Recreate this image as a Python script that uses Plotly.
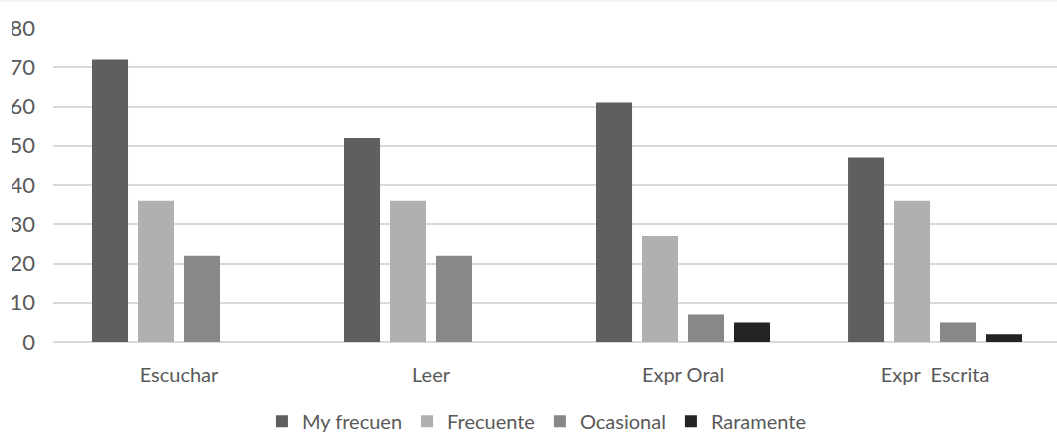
import plotly.graph_objects as go

categories = ["Escuchar", "Leer", "Expr Oral", "Expr  Escrita"]
series_names = ["My frecuen", "Frecuente", "Ocasional", "Raramente"]
my_frecuen = [72, 52, 61, 47]
frecuente = [36, 36, 27, 36]
ocasional = [22, 22, 7, 5]
raramente = [0, 0, 5, 2]
y_ticks = [0, 10, 20, 30, 40, 50, 60, 70, 80]

colors = ["#5f5f5f", "#b0b0b0", "#888888", "#232323"]
values = [my_frecuen, frecuente, ocasional, raramente]

FONT = "Lato"
TXT = "#595959"

fig = go.Figure()
for name, vals, col in zip(series_names, values, colors):
    fig.add_trace(go.Bar(
        x=categories, y=vals, name=name,
        marker=dict(color=col, line=dict(width=0)),
    ))

PLOT_W = 1057 - 53
fig.update_layout(
    width=1057, height=432,
    margin=dict(l=53, r=0, t=28, b=90, autoexpand=False),
    paper_bgcolor="white", plot_bgcolor="white",
    barmode="group", bargap=0.27, bargroupgap=0.217,
    font=dict(family=FONT, size=20, color=TXT),
    showlegend=True,
    legend=dict(orientation="h", x=0.482, xanchor="center", y=-0.252, yanchor="middle",
                font=dict(family=FONT, size=20, color=TXT), itemwidth=30,
                traceorder="normal"),
    xaxis=dict(type="category", range=[-0.5, 3.484], showgrid=False, showline=False,
               zeroline=False, ticks="", tickfont=dict(family=FONT, size=20, color=TXT),
               ticklabelstandoff=19),
    yaxis=dict(range=[0, 80], tickvals=y_ticks, showgrid=True, gridcolor="#d9d9d9",
               gridwidth=1.5, zeroline=True, zerolinecolor="#d9d9d9", zerolinewidth=1.5,
               showline=False, ticks="", tickfont=dict(family=FONT, size=22, color=TXT),
               ticklabelstandoff=17),
    shapes=[
        dict(type="line", xref="paper", yref="paper", x0=-53 / PLOT_W, x1=1.0,
             y0=1.086, y1=1.086, line=dict(color="#e6e6e6", width=1)),
        # the reference image is cut off at the left, hiding part of the first digit
        dict(type="rect", xref="paper", yref="paper", x0=-53 / PLOT_W, x1=(12 - 53) / PLOT_W,
             y0=-0.05, y1=1.06, fillcolor="white", line=dict(width=0), layer="above"),
    ],
)

fig.write_html("out.html")
